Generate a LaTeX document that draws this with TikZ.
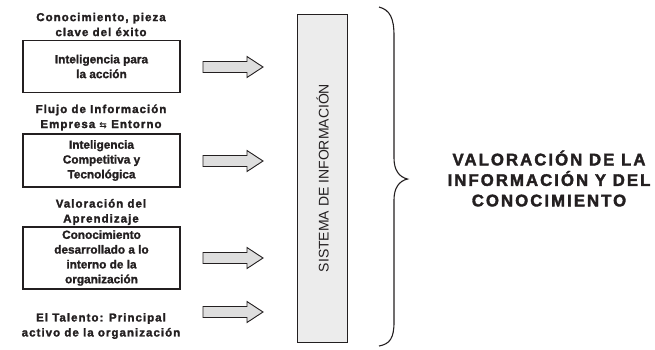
\documentclass[tikz,border=0pt]{standalone}
\usepackage{fontspec}
\setmainfont{Liberation Sans}
\newfontfamily\headfont[LetterSpace=9,FakeBold=2]{Liberation Sans Bold}
\newfontfamily\boxfont[FakeBold=1.5]{Liberation Sans Bold}
\newfontfamily\bigfont[LetterSpace=12,FakeBold=2]{Liberation Sans Bold}
\newfontfamily\symfont{DejaVu Sans}
\definecolor{ink}{HTML}{231F20}
\definecolor{arrowfill}{HTML}{DEDEDE}
\definecolor{barfill}{HTML}{ECECEC}
\begin{document}
\begin{tikzpicture}[x=1pt,y=-1pt,
  heading/.style={align=center,font=\headfont\fontsize{11.5}{15}\selectfont,text=ink,inner sep=0pt},
  textbox/.style={draw=ink,line width=1.6pt,minimum width=157pt,align=center,
    font=\boxfont\fontsize{11.8}{14.8}\selectfont,text=ink,inner sep=0pt},
  blockarrow/.pic={\draw[ink,line width=0.9pt,fill=arrowfill,line join=miter]
    (-30,-5.5) -- (14,-5.5) -- (14,-10.5) -- (30,0) -- (14,10.5) -- (14,5.5) -- (-30,5.5) -- cycle;},
  sysbar/.style={draw=ink,line width=1pt,fill=barfill,minimum width=49.5pt,minimum height=328pt,inner sep=0pt},
  bigtext/.style={align=center,font=\bigfont\fontsize{16.8}{20.5}\selectfont,text=ink,inner sep=0pt}
]
\useasboundingbox (0,0) rectangle (655,349);

% headings
\node[heading] (h1) at (101,24.5) {Conocimiento, pieza\\clave del éxito};
\node[heading] (h2) at (101,117.5) {Flujo de Información\\Empresa {\symfont\bfseries\fontsize{9}{9}\selectfont ⇆} Entorno};
\node[heading] (h3) at (101,212) {Valoración del\\Aprendizaje};
\node[heading] (h4) at (101,326) {El Talento: Principal\\activo de la organización};

% boxes
\node[textbox,minimum height=52pt] (b1) at (101.5,66.5) {Inteligencia para\\la acción};
\node[textbox,minimum height=53pt] (b2) at (101.5,160.5) {Inteligencia\\Competitiva y\\Tecnológica};
\node[textbox,minimum height=62pt] (b3) at (101.5,258) {Conocimiento\\desarrollado a lo\\interno de la\\organización};

% arrows
\pic (a1) at (233,67) {blockarrow};
\pic (a2) at (233,161) {blockarrow};
\pic (a3) at (233,258) {blockarrow};
\pic (a4) at (233,312) {blockarrow};

% system bar
\node[sysbar] (bar) at (322.5,178) {};
\node[rotate=90,font=\fontsize{14}{14}\selectfont,text=ink] (bartext) at (bar.center) {SISTEMA DE INFORMACIÓN};

% brace
\coordinate (btop) at (379,7);
\coordinate (btip) at (407.5,179);
\coordinate (bbot) at (379,346);
\draw[ink,line width=1.1pt] (btop) .. controls (390,10) and (394,18) .. (394,36)
  -- (394,158) .. controls (394,170) and (399,177) .. (btip)
  .. controls (399,181) and (394,188) .. (394,200)
  -- (394,322) .. controls (394,338) and (390,344) .. (bbot);

% right text
\node[bigtext] (result) at (549,178.5) {VALORACIÓN DE LA\\INFORMACIÓN Y DEL\\CONOCIMIENTO};
\end{tikzpicture}
\end{document}
